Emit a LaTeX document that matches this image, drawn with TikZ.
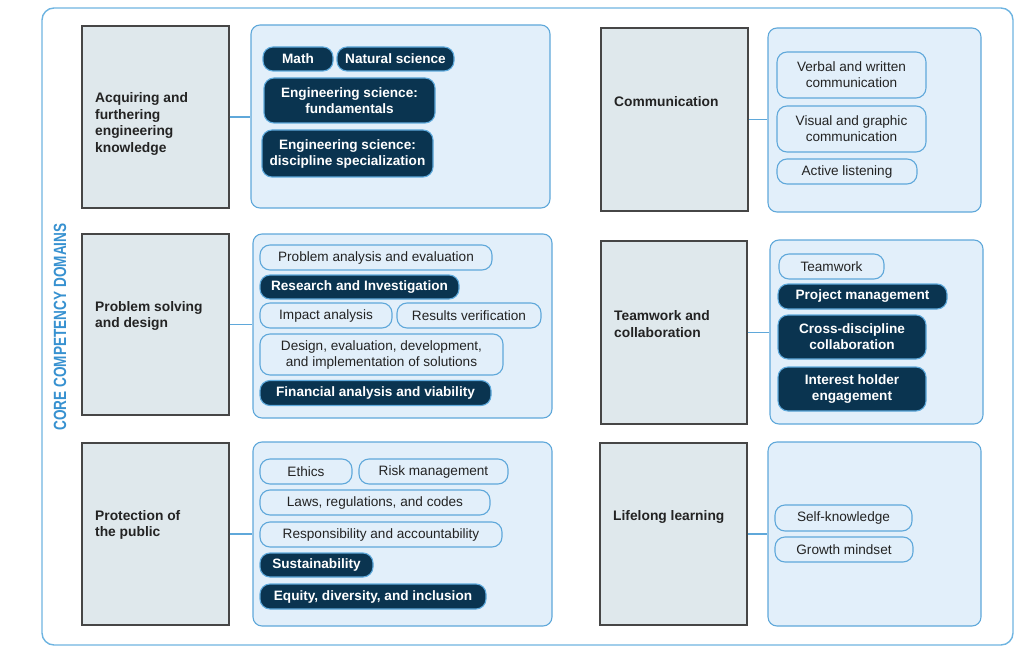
\documentclass[tikz,border=0pt]{standalone}
\usepackage{fontspec}
\setmainfont{Liberation Sans}
\definecolor{frameblue}{RGB}{110,180,225}
\definecolor{titleblue}{RGB}{55,145,208}
\definecolor{panelfill}{RGB}{226,239,250}
\definecolor{panelborder}{RGB}{95,168,218}
\definecolor{grayfill}{RGB}{223,232,236}
\definecolor{grayborder}{RGB}{70,70,70}
\definecolor{navy}{RGB}{10,52,80}
\definecolor{navyborder}{RGB}{95,170,220}
\definecolor{txt}{RGB}{35,35,35}
\begin{document}
\begin{tikzpicture}[x=1pt,y=-1pt,
  gbox/.style={draw=grayborder,fill=grayfill,line width=1.3pt,inner sep=0pt},
  panel/.style={draw=panelborder,fill=panelfill,line width=1.1pt,rounded corners=9pt,inner sep=0pt},
  glabel/.style={anchor=west,align=left,text=txt,font=\fontsize{13.8}{16.8}\selectfont\bfseries,inner sep=0pt},
  lpill/.style={draw=panelborder,fill=panelfill,line width=1.1pt,rounded corners=10pt,inner sep=0pt,align=center,text=txt,font=\fontsize{13.6}{16}\selectfont},
  dpill/.style={draw=navyborder,fill=navy,line width=1.1pt,rounded corners=10pt,inner sep=0pt,align=center,text=white,font=\fontsize{13.6}{16}\selectfont\bfseries},
  conn/.style={draw=panelborder,line width=1.1pt},
  sz/.style 2 args={minimum width=#1pt,minimum height=#2pt}
]
\useasboundingbox (0,0) rectangle (1022,647);
\draw[frameblue,line width=1.4pt,rounded corners=12pt] (42,8) rectangle (1013,645);
\node[rotate=90,text=titleblue,font=\fontsize{13.6}{16}\selectfont\bfseries,inner sep=0pt] (title) at (60,327) {\scalebox{1}[1.3]{CORE COMPETENCY DOMAINS}};

% ---------- Row 1 left ----------
\node[gbox,sz={147}{182}] (gA) at (155.5,117) {};
\node[glabel] (lA) at (95,124) {Acquiring and\\furthering\\engineering\\knowledge};
\node[panel,sz={299}{183}] (pA) at (400.5,116.5) {};
\draw[conn] (gA.east) -- (gA.east -| pA.west);
\node[dpill,sz={70}{24}] (a1) at (298,59) {Math};
\node[dpill,sz={117}{24}] (a2) at (395.5,59) {Natural science};
\node[dpill,sz={171}{45}] (a3) at (349.5,100.5) {Engineering science:\\fundamentals};
\node[dpill,sz={171}{47}] (a4) at (347.5,153.5) {Engineering science:\\discipline specialization};

% ---------- Row 2 left ----------
\node[gbox,sz={147}{181}] (gB) at (155.5,324.5) {};
\node[glabel] (lB) at (95,316) {Problem solving\\and design};
\node[panel,sz={299}{184}] (pB) at (402.5,326) {};
\draw[conn] (gB.east) -- (gB.east -| pB.west);
\node[lpill,sz={232}{25}] (b1) at (376,257.5) {Problem analysis and evaluation};
\node[dpill,sz={199}{24}] (b2) at (359.5,287) {Research and Investigation};
\node[lpill,sz={132}{25}] (b3) at (326,315.5) {Impact analysis};
\node[lpill,sz={144}{25}] (b4) at (469,315.5) {Results verification};
\node[lpill,sz={243}{41}] (b5) at (381.5,354.5) {Design, evaluation, development,\\and implementation of solutions};
\node[dpill,sz={231}{25}] (b6) at (375.5,393) {Financial analysis and viability};

% ---------- Row 3 left ----------
\node[gbox,sz={147}{182}] (gC) at (155.5,534) {};
\node[glabel] (lC) at (95,525) {Protection of\\the public};
\node[panel,sz={299}{184}] (pC) at (402.5,534) {};
\draw[conn] (gC.east) -- (gC.east -| pC.west);
\node[lpill,sz={92}{25}] (c1) at (306,471.5) {Ethics};
\node[lpill,sz={149}{25}] (c2) at (433.5,471.5) {Risk management};
\node[lpill,sz={230}{25}] (c3) at (375,502.5) {Laws, regulations, and codes};
\node[lpill,sz={242}{25}] (c4) at (381,534.5) {Responsibility and accountability};
\node[dpill,sz={113}{24}] (c5) at (316.5,565) {Sustainability};
\node[dpill,sz={226}{25}] (c6) at (373,596.5) {Equity, diversity, and inclusion};

% ---------- Row 1 right ----------
\node[gbox,sz={147}{183}] (gD) at (674.5,119.5) {};
\node[glabel] (lD) at (614,102) {Communication};
\node[panel,sz={213}{184}] (pD) at (874.5,120) {};
\draw[conn] (gD.east) -- (gD.east -| pD.west);
\node[lpill,sz={149}{46}] (d1) at (851.5,75) {Verbal and written\\communication};
\node[lpill,sz={149}{46}] (d2) at (851.5,129) {Visual and graphic\\communication};
\node[lpill,sz={140}{25}] (d3) at (847,171.5) {Active listening};

% ---------- Row 2 right ----------
\node[gbox,sz={146}{183}] (gE) at (674,332.5) {};
\node[glabel] (lE) at (614,324) {Teamwork and\\collaboration};
\node[panel,sz={213}{184}] (pE) at (876.5,332) {};
\draw[conn] (gE.east) -- (gE.east -| pE.west);
\node[lpill,sz={105}{25}] (e1) at (831.5,266.5) {Teamwork};
\node[dpill,sz={169}{25}] (e2) at (862.5,296.5) {Project management};
\node[dpill,sz={148}{44}] (e3) at (852,337) {Cross-discipline\\collaboration};
\node[dpill,sz={148}{44}] (e4) at (852,389) {Interest holder\\engagement};

% ---------- Row 3 right ----------
\node[gbox,sz={147}{182}] (gF) at (673.5,534) {};
\node[glabel] (lF) at (613,517) {Lifelong learning};
\node[panel,sz={213}{184}] (pF) at (874.5,534) {};
\draw[conn] (gF.east) -- (gF.east -| pF.west);
\node[lpill,sz={137}{26}] (f1) at (843.5,518) {Self-knowledge};
\node[lpill,sz={138}{25}] (f2) at (844,549.5) {Growth mindset};
\end{tikzpicture}
\end{document}
